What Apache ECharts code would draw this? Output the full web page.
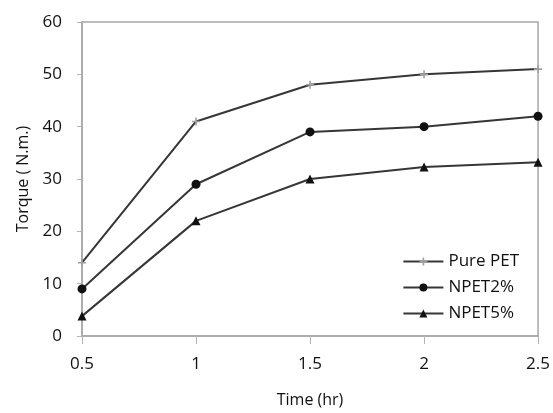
<!DOCTYPE html>
<html>
<head>
<meta charset="utf-8">
<script src="https://cdn.jsdelivr.net/npm/echarts@6/dist/echarts.min.js"></script>
<style>
  html, body { margin: 0; padding: 0; background: #fff; }
  #main { width: 553px; height: 413px; }
</style>
</head>
<body>
<div id="main"></div>
<script>
// time points (hr)
var times = ['0.5', '1', '1.5', '2', '2.5'];
// torque values
var purePET = [14, 41, 48, 50, 51];
var npet2 = [9, 29, 39, 40, 42];
var npet5 = [3.8, 22, 30, 32.3, 33.2];
var yTicks = [0, 10, 20, 30, 40, 50, 60];

var lineColor = '#363636';
var font = 'Open Sans';

var myChart = echarts.init(document.getElementById('main'));

myChart.setOption({
  animation: false,
  textStyle: { fontFamily: font },
  grid: {
    left: 82, right: 6, top: 22, bottom: 74,
    show: true, borderColor: '#a8a8a8', borderWidth: 1.5
  },
  legend: {
    orient: 'vertical',
    right: 29,
    top: 248,
    itemWidth: 40,
    itemHeight: 10,
    itemGap: 9,
    textStyle: { fontSize: 17, color: '#111', fontFamily: font },
    data: ['Pure PET', 'NPET2%', 'NPET5%']
  },
  xAxis: {
    type: 'category',
    data: times,
    boundaryGap: false,
    name: 'Time (hr)',
    nameLocation: 'middle',
    nameGap: 56,
    nameTextStyle: { fontSize: 16, color: '#111' },
    axisLine: { lineStyle: { color: '#a8a8a8', width: 1.5 } },
    axisTick: { show: true, length: 8, lineStyle: { color: '#b4b4b4' } },
    axisLabel: { fontSize: 17, color: '#111', margin: 20 },
    splitLine: { show: false }
  },
  yAxis: {
    type: 'value',
    min: yTicks[0],
    max: yTicks[yTicks.length - 1],
    interval: 10,
    name: 'Torque ( N.m.)',
    nameLocation: 'middle',
    nameGap: 51,
    nameTextStyle: { fontSize: 16, color: '#111' },
    axisLine: { show: true, lineStyle: { color: '#a8a8a8', width: 1.5 } },
    axisTick: { show: true, length: 5, lineStyle: { color: '#b4b4b4' } },
    axisLabel: { fontSize: 17, color: '#111', margin: 20 },
    splitLine: { show: false }
  },
  series: [
    {
      name: 'Pure PET',
      type: 'line',
      data: purePET,
      symbol: 'path://M4,0H6V4H10V6H6V10H4V6H0V4H4Z',
      symbolSize: 8,
      lineStyle: { color: lineColor, width: 2 },
      itemStyle: { color: '#a0a0a0' }
    },
    {
      name: 'NPET2%',
      type: 'line',
      data: npet2,
      symbol: 'circle',
      symbolSize: 9,
      lineStyle: { color: lineColor, width: 2 },
      itemStyle: { color: '#111' }
    },
    {
      name: 'NPET5%',
      type: 'line',
      data: npet5,
      symbol: 'triangle',
      symbolSize: 9,
      lineStyle: { color: lineColor, width: 2 },
      itemStyle: { color: '#111' }
    }
  ]
});
</script>
</body>
</html>
